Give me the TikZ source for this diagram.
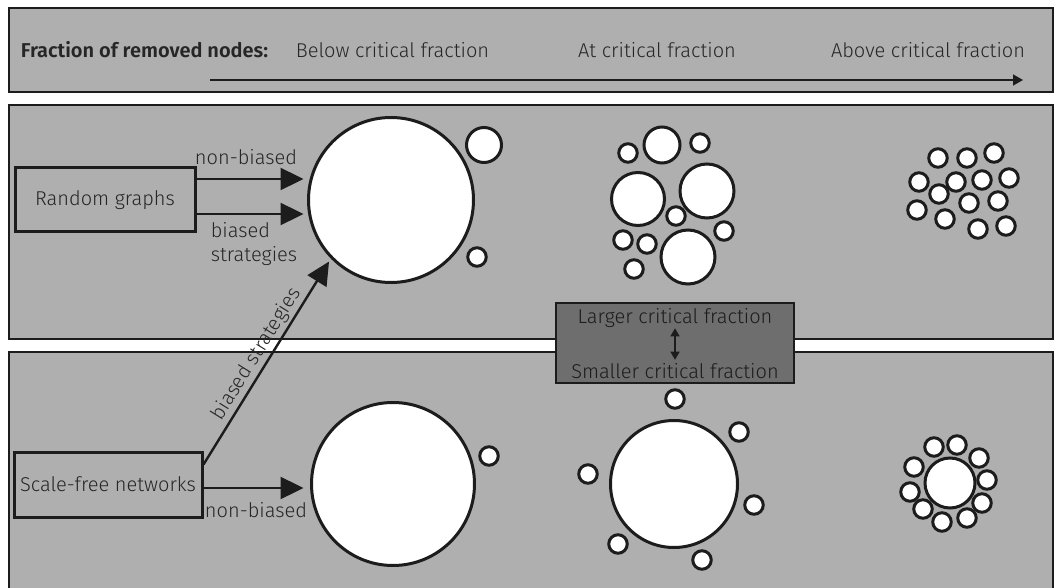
\documentclass[tikz,border=0pt]{standalone}
\usepackage{fontspec}
\setmainfont{Fira Sans}[UprightFont=* Light, BoldFont=* SemiBold]
\usetikzlibrary{arrows.meta,calc}
\definecolor{panelgray}{HTML}{AFAFAF}
\definecolor{boxgray}{HTML}{6E6E6E}
\definecolor{ink}{HTML}{1C1C1C}
\definecolor{txt}{HTML}{262626}

\begin{document}
\begin{tikzpicture}[x=1pt,y=-1pt,
  panel/.style={draw=ink, line width=2.5pt, fill=panelgray},
  lbl/.style={text=txt, font=\fontsize{20}{24}\selectfont, inner sep=0pt},
  srcbox/.style={draw=ink, line width=3pt, inner sep=0pt, text=txt,
                 font=\fontsize{20}{24}\selectfont},
  dot/.style={circle, draw=ink, fill=white, line width=3pt, inner sep=0pt,
              outer sep=0pt, minimum size=#1},
  dot/.default=18.5pt,
  bigarrow/.style={draw=ink, line width=2.4pt, -{Triangle[length=23pt,width=22pt]}},
  axisarrow/.style={draw=ink, line width=1.5pt, -{Triangle[length=10pt,width=11pt]}},
  dblarrow/.style={draw=ink, line width=1.4pt,
                   {Triangle[length=8pt,width=9pt]}-{Triangle[length=8pt,width=9pt]}}
]
\useasboundingbox (0,0) rectangle (1055,588);
\clip (0,0) rectangle (1055,588);

% background panels
\path[panel] (9,8) rectangle (1053,92);
\path[panel] (9,105) rectangle (1053,339);
\path[panel] (9,352) rectangle (1053,600);

% header row
\node[lbl, font=\fontsize{20}{24}\selectfont\bfseries, anchor=base] (hdr) at (144.5,58) {Fraction of removed nodes:};
\node[lbl, anchor=base] (below) at (392.5,58) {Below critical fraction};
\node[lbl, anchor=base] (atcf) at (657,58) {At critical fraction};
\node[lbl, anchor=base] (above) at (928,58) {Above critical fraction};
\coordinate (ax0) at (210,80);
\coordinate (ax1) at (1023,80);
\draw[axisarrow] (ax0) -- (ax1);

% random graphs row
\node[srcbox, minimum width=180pt, minimum height=64pt] (rg) at (105,200) {Random graphs};
\node[dot=165pt] (bigA) at (391,200) {};
\node[dot=35pt] (a1) at (484,145) {};
\node[dot] (a2) at (477,257) {};
\draw[bigarrow, shorten >=5pt] ([yshift=21pt]rg.east) -- ([yshift=21pt]rg.east -| bigA.west);
\draw[bigarrow, shorten >=5pt] ([yshift=-14pt]rg.east) -- ([yshift=-14pt]rg.east -| bigA.west);
\node[lbl] (nb1) at (246,157) {non-biased};
\node[lbl, align=left] (bs1) at (254,244) {biased\\strategies};

% at critical fraction, random graphs
\node[dot] (c1) at (628,153) {};
\node[dot=36pt] (c2) at (662,145) {};
\node[dot] (c3) at (700,143) {};
\node[dot=53pt] (c4) at (638,199) {};
\node[dot=54pt] (c5) at (707,191) {};
\node[dot] (c6) at (676,216) {};
\node[dot] (c7) at (724,231) {};
\node[dot=54pt] (c8) at (688,257) {};
\node[dot] (c9) at (623,240) {};
\node[dot] (c10) at (647,244) {};
\node[dot] (c11) at (634,269) {};

% above critical fraction, random graphs
\foreach \x/\y [count=\i] in {938/158,967/158,994/153,919/182,956/182,982/180,1009/178,
                                939/194,969/203,998/201,917/210,945/219,978/229,1006/226}
  \node[dot] (r\i) at (\x,\y) {};

% scale-free row
\node[srcbox, minimum width=188pt, minimum height=65pt] (sf) at (108,484.5) {Scale-free networks};
\node[dot=163pt] (bigB) at (393,484) {};
\node[dot] (b1) at (489,456) {};
\draw[bigarrow, shorten >=8pt] ([yshift=-3.5pt]sf.east) -- ([yshift=-3.5pt]sf.east -| bigB.west);
\node[lbl] (nb2) at (256,510) {non-biased};
\draw[bigarrow, shorten >=5pt] ([yshift=20pt]sf.east) -- (bigA.224)
  node[lbl, midway, above=2pt, sloped] (bs2) {biased strategies};

% at critical fraction, scale-free
\node[dot=127pt] (bigC) at (674,484) {};
\foreach \x/\y [count=\i] in {675/399,739/432,588/474,754/505,618/544,702/560}
  \node[dot] (s\i) at (\x,\y) {};

% above critical fraction, scale-free
\node[dot=50pt] (bigD) at (950,483) {};
\foreach \x/\y [count=\i] in {934/447,957/445,979/458,987/480,982/503,967/518,
                                942/522,923/509,910/492,914/467}
  \node[dot] (t\i) at (\x,\y) {};

% critical fraction comparison box
\node[draw=ink, line width=2pt, fill=boxgray, minimum width=238pt, minimum height=80pt] (cf) at (675,343) {};
\node[lbl, text=ink, anchor=base] (larger) at (675,323) {Larger critical fraction};
\node[lbl, text=ink, anchor=base] (smaller) at (675,378) {Smaller critical fraction};
\draw[dblarrow, shorten <=1pt, shorten >=3pt] (larger.south) -- (smaller.north);
\end{tikzpicture}
\end{document}
